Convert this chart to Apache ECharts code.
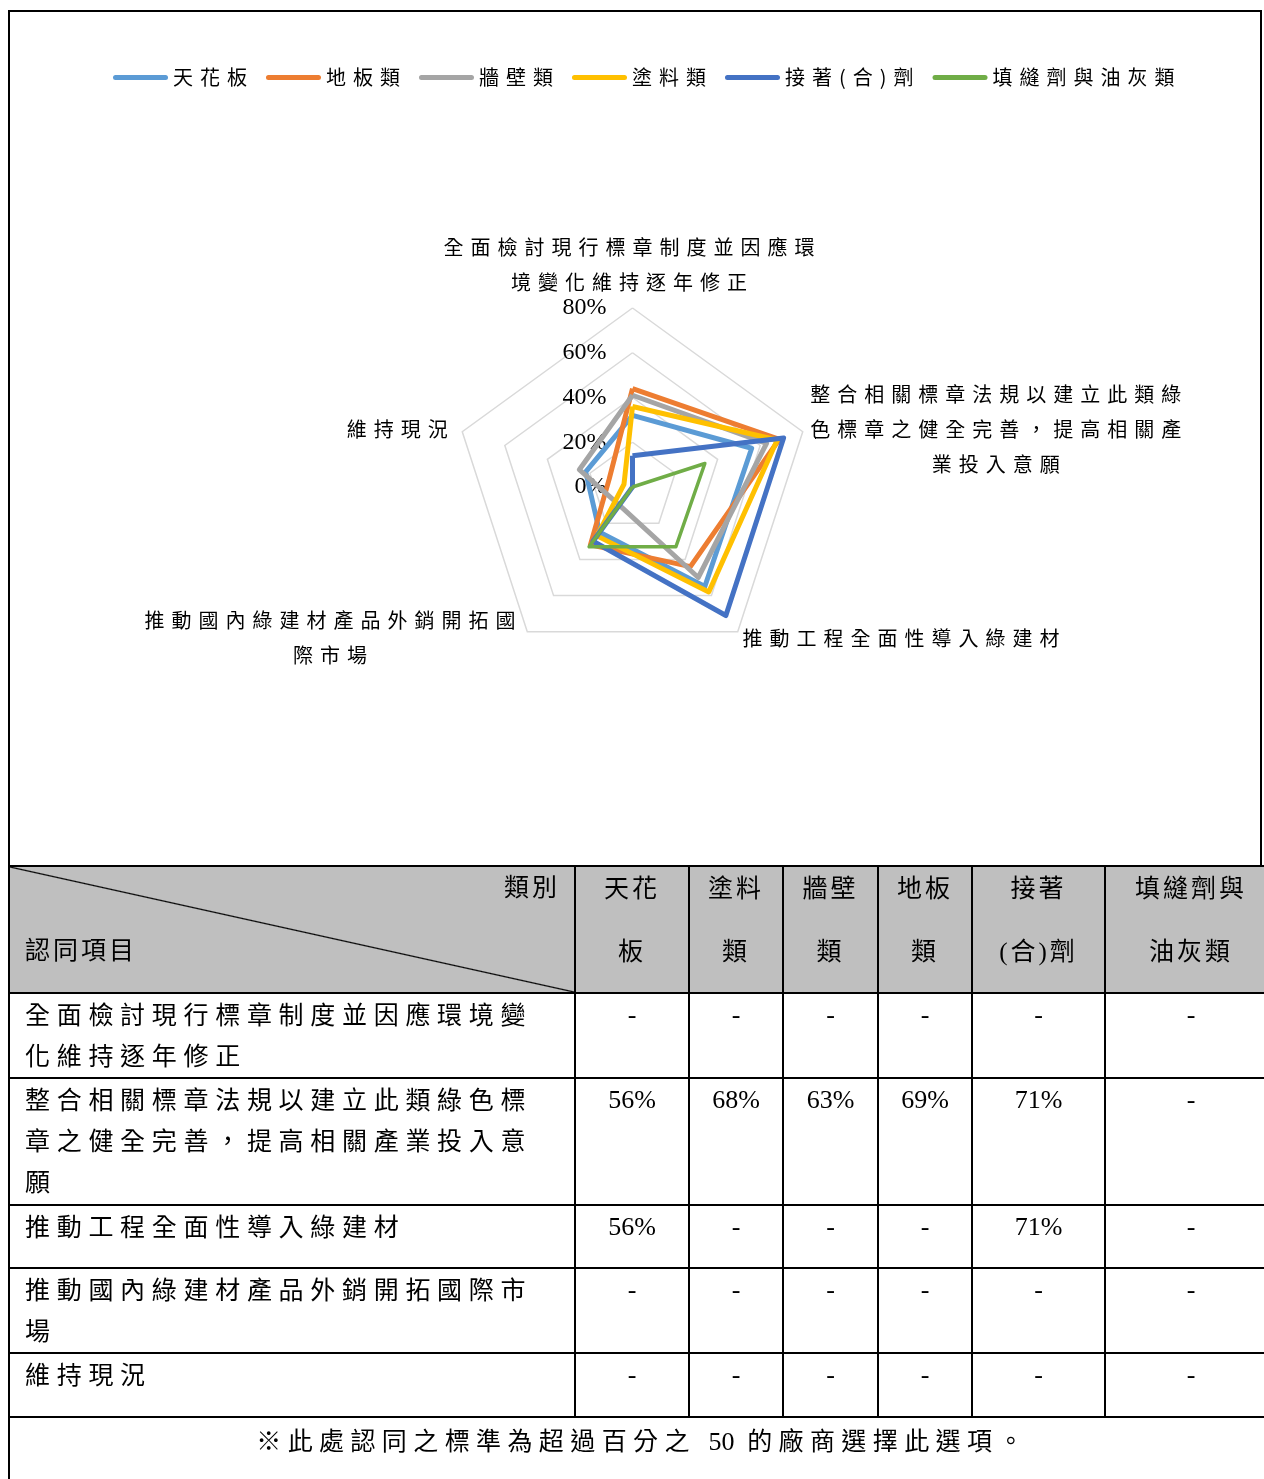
<!DOCTYPE html>
<html>
<head>
<meta charset="utf-8">
<script src="https://cdn.jsdelivr.net/npm/echarts@6/dist/echarts.min.js"></script>
<style>
html, body { margin: 0; padding: 0; width: 1264px; height: 1479px; overflow: hidden; background: #fff; }
#frame { position: absolute; left: 8px; top: 10px; width: 1254px; height: 860px; box-sizing: border-box;
  border-left: 2px solid #000; border-top: 2px solid #000; border-right: 2px solid #000; }
#chart { position: absolute; left: 0; top: 0; width: 1264px; height: 866px; }
#tbl { position: absolute; left: 8px; top: 865px; width: 1268px; border-collapse: collapse; table-layout: fixed;
  font-family: "Liberation Serif", "Noto Sans CJK TC", serif; font-size: 25px; color: #000; }
#tbl td { border: 2px solid #000; padding: 0; vertical-align: top; line-height: 41px; white-space: pre; overflow: hidden; }
#tbl tr.hd td { background: #BFBFBF; text-align: center; letter-spacing: 3px; }
#tbl tr.hd td .hin { line-height: 63px; margin-top: -10px; }
#tbl td.diag { position: relative;
  background: linear-gradient(to top right, #BFBFBF calc(50% - 1.2px), #000 50%, #BFBFBF calc(50% + 1.2px)) !important; }
#tbl td.diag .cat { position: absolute; right: 14px; top: 0px; line-height: 41px; }
#tbl td.diag .itm { position: absolute; left: 15px; top: 63px; line-height: 41px; }
#tbl td.lab { padding: 1px 0 0 15px; letter-spacing: 6.7px; }
#tbl td.val { text-align: center; padding-top: 0px; font-size: 26px; }
#tbl td.foot { text-align: center; padding-top: 3px; letter-spacing: 6.4px; }
#tbl td.foot .num { letter-spacing: 0; font-size: 26px; }
</style>
</head>
<body>
<div id="frame"></div>
<div id="chart"></div>
<table id="tbl"></table>
<script>
// ---------------- data ----------------
const categories = [
  '全面檢討現行標章制度並因應環境變化維持逐年修正',
  '整合相關標章法規以建立此類綠色標章之健全完善，提高相關產業投入意願',
  '推動工程全面性導入綠建材',
  '推動國內綠建材產品外銷開拓國際市場',
  '維持現況'
];
const categoryLabels = [
  '全面檢討現行標章制度並因應環\n境變化維持逐年修正',
  '整合相關標章法規以建立此類綠\n色標章之健全完善，提高相關產\n業投入意願',
  '推動工程全面性導入綠建材',
  '推動國內綠建材產品外銷開拓國\n際市場',
  '維持現況'
];
const seriesNames = ['天花板', '地板類', '牆壁類', '塗料類', '接著(合)劑', '填縫劑與油灰類'];
const ceiling  = [32, 56, 55, 25, 22];
const flooring = [44, 69, 44, 32, 11];
const wall     = [41, 63, 50, 10, 25];
const paint    = [36, 68, 58, 27, 4];
const adhesive = [14, 71, 71, 30, 0];
const sealant  = [0, 34, 33, 33, 0];
const axisTicks = [0, 20, 40, 60, 80];

const tableHeaders = ['天花\n板', '塗料\n類', '牆壁\n類', '地板\n類', '接著\n(合)劑', '填縫劑與\n油灰類'];
const tableCorner = ['類別', '認同項目'];
const tableRowLabels = [
  '全面檢討現行標章制度並因應環境變\n化維持逐年修正',
  '整合相關標章法規以建立此類綠色標\n章之健全完善，提高相關產業投入意\n願',
  '推動工程全面性導入綠建材',
  '推動國內綠建材產品外銷開拓國際市\n場',
  '維持現況'
];
const tableValues = [
  ['-', '-', '-', '-', '-', '-'],
  ['56%', '68%', '63%', '69%', '71%', '-'],
  ['56%', '-', '-', '-', '71%', '-'],
  ['-', '-', '-', '-', '-', '-'],
  ['-', '-', '-', '-', '-', '-']
];
const tableNote = '※此處認同之標準為超過百分之 50 的廠商選擇此選項。';

// ---------------- styles ----------------
const seriesValues = [ceiling, flooring, wall, paint, adhesive, sealant];
const colors = ['#5B9BD5', '#ED7D31', '#A5A5A5', '#FFC000', '#4472C4', '#70AD47'];
const widths = [5, 5, 5, 5, 5, 3.5];
const colWidths = [566, 114, 94, 95, 94, 133, 172];
const rowHeights = [127, 84, 127, 63, 85, 64, 80];

// CJK letter spacing for canvas text (approximates the spaced Ming-style font)
(function () {
  const P = window.CanvasRenderingContext2D && CanvasRenderingContext2D.prototype;
  if (!P || !('letterSpacing' in P)) return;
  const re = /[\u2e80-\u9fff\uf900-\ufaff\uff00-\uffef\u3000-\u303f]/;
  const wrap = function (fn) {
    return function (text) {
      const prev = this.letterSpacing;
      this.letterSpacing = re.test(String(text)) ? '7px' : '0px';
      try { return fn.apply(this, arguments); } finally { this.letterSpacing = prev; }
    };
  };
  P.fillText = wrap(P.fillText);
  P.strokeText = wrap(P.strokeText);
  P.measureText = wrap(P.measureText);
})();

// ---------------- chart ----------------
const cjkFont = '"Noto Sans CJK TC", "Noto Sans CJK SC", sans-serif';
// ECharts radar runs counter-clockwise; Excel runs clockwise from the top.
const order = [0, 4, 3, 2, 1];
const capsule = 'path://M2.5,0H52.5A2.5,2.5,0,0,1,52.5,5H2.5A2.5,2.5,0,0,1,2.5,0Z';

const chart = echarts.init(document.getElementById('chart'), null, { renderer: 'canvas' });
chart.setOption({
  animation: false,
  legend: {
    data: seriesNames.map(n => ({ name: n, icon: capsule })),
    left: 108,
    top: 59,
    itemWidth: 55,
    itemHeight: 5,
    itemGap: 12,
    textStyle: { fontFamily: cjkFont, fontSize: 20, color: '#000', lineHeight: 26 },
    selectedMode: false
  },
  radar: {
    center: [632.5, 487],
    radius: 179,
    startAngle: 90,
    splitNumber: 4,
    shape: 'polygon',
    axisNameGap: 8,
    indicator: order.map(k => ({ name: categoryLabels[k], min: axisTicks[0], max: axisTicks[axisTicks.length - 1] })),
    axisName: {
      color: '#000',
      fontFamily: cjkFont,
      fontSize: 20,
      lineHeight: 35,
      formatter: function (name) {
        return name.split('\n').map(l => '{c|' + l + '}').join('\n');
      },
      rich: { c: { align: 'center', fontFamily: cjkFont, fontSize: 20, lineHeight: 35, color: '#000' } }
    },
    axisLine: { show: false },
    axisTick: { show: false },
    axisLabel: { show: false },
    splitLine: { lineStyle: { color: '#D9D9D9', width: 1.5 } },
    splitArea: { show: false }
  },
  polar: { center: [632.5, 487], radius: 179 },
  angleAxis: { show: false, type: 'value', startAngle: 90, min: 0, max: 360 },
  radiusAxis: {
    type: 'value',
    min: axisTicks[0],
    max: axisTicks[axisTicks.length - 1],
    interval: axisTicks[1] - axisTicks[0],
    axisLine: { show: false },
    axisTick: { show: false },
    splitLine: { show: false },
    splitArea: { show: false },
    axisLabel: {
      formatter: v => v + '%',
      fontFamily: '"Liberation Serif", serif',
      fontSize: 24,
      color: '#000',
      margin: 26
    }
  },
  series: seriesNames.map((n, i) => ({
    type: 'radar',
    name: n,
    symbol: 'none',
    color: colors[i],
    lineStyle: { color: colors[i], width: widths[i] },
    itemStyle: { color: colors[i] },
    emphasis: { disabled: true },
    data: [{ name: n, value: order.map(k => seriesValues[i][k]) }]
  }))
});

// ---------------- table ----------------
(function () {
  const tbl = document.getElementById('tbl');
  const cg = document.createElement('colgroup');
  colWidths.forEach(w => { const c = document.createElement('col'); c.style.width = w + 'px'; cg.appendChild(c); });
  tbl.appendChild(cg);

  const hd = document.createElement('tr');
  hd.className = 'hd';
  hd.style.height = rowHeights[0] + 'px';
  const corner = document.createElement('td');
  corner.className = 'diag';
  corner.innerHTML = '<span class="cat"></span><span class="itm"></span>';
  corner.querySelector('.cat').textContent = tableCorner[0];
  corner.querySelector('.itm').textContent = tableCorner[1];
  hd.appendChild(corner);
  tableHeaders.forEach(h => {
    const td = document.createElement('td');
    const d = document.createElement('div');
    d.className = 'hin';
    d.textContent = h;
    td.appendChild(d);
    hd.appendChild(td);
  });
  tbl.appendChild(hd);

  tableRowLabels.forEach((lab, r) => {
    const tr = document.createElement('tr');
    tr.style.height = rowHeights[r + 1] + 'px';
    const td = document.createElement('td');
    td.className = 'lab';
    td.textContent = lab;
    tr.appendChild(td);
    tableValues[r].forEach(v => {
      const c = document.createElement('td');
      c.className = 'val';
      c.textContent = v;
      tr.appendChild(c);
    });
    tbl.appendChild(tr);
  });

  const ft = document.createElement('tr');
  ft.style.height = rowHeights[rowHeights.length - 1] + 'px';
  const fc = document.createElement('td');
  fc.className = 'foot';
  fc.colSpan = colWidths.length;
  tableNote.split(/(\d+)/).forEach(part => {
    if (!part) return;
    if (/^\d+$/.test(part)) {
      const s = document.createElement('span');
      s.className = 'num';
      s.textContent = part;
      fc.appendChild(s);
    } else {
      fc.appendChild(document.createTextNode(part));
    }
  });
  ft.appendChild(fc);
  tbl.appendChild(ft);
})();
</script>
</body>
</html>
